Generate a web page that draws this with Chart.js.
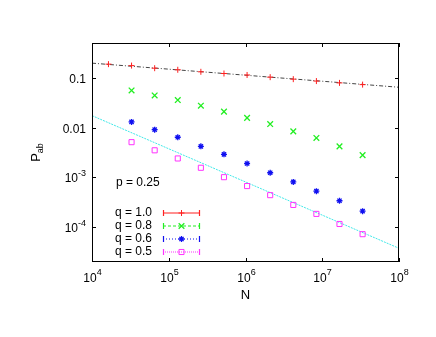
<!DOCTYPE html>
<html>
<head>
<meta charset="utf-8">
<script src="https://cdn.jsdelivr.net/npm/chart.js@4.4.0/dist/chart.umd.min.js"></script>
<style>
html, body { margin: 0; padding: 0; background: #fff; }
#wrap { width: 436px; height: 337px; }
</style>
</head>
<body>
<div id="wrap"><canvas id="probChart" width="436" height="337"></canvas></div>
<script>
// system sizes N = 2^14 ... 2^25
var sizes = [16384, 32768, 65536, 131072, 262144, 524288, 1048576, 2097152, 4194304, 8388608, 16777216, 33554432];

// P_ab (q = 1.0 starts at 2^14, the others at 2^15)
var q10 = [0.188, 0.176, 0.156, 0.145, 0.132, 0.122, 0.114, 0.103, 0.094, 0.086, 0.079, 0.073];
var q08 = [0.0557, 0.0443, 0.0358, 0.0275, 0.0209, 0.0157, 0.0118, 0.0084, 0.0062, 0.0042, 0.0028];
var q06 = [0.0130, 0.0091, 0.0064, 0.0042, 0.0029, 0.0019, 0.00124, 0.00081, 0.00053, 0.00034, 0.00021];
var q05 = [0.0051, 0.0035, 0.0024, 0.00156, 0.00101, 0.00067, 0.00044, 0.00028, 0.000185, 0.000116, 0.0000724];

// fitted power laws, end points at N = 1e4 and N = 1e8
var fitN = [1e4, 1e8];
var fitQ10 = [0.197, 0.0646];
var fitQ05 = [0.0174, 0.0000377];

var seriesLabels = ['q = 1.0', 'q = 0.8', 'q = 0.6', 'q = 0.5'];
var seriesColors = ['#ff2020', '#22ee22', '#1010f0', '#ff33ff'];
var xTicks = [1e4, 1e5, 1e6, 1e7, 1e8];
var xTickBase = ['10', '10', '10', '10', '10'];
var xTickExp = ['4', '5', '6', '7', '8'];
var yTicks = [0.1, 0.01, 1e-3, 1e-4];
var yTickBase = ['0.1', '0.01', '10', '10'];
var yTickExp = ['', '', '-3', '-4'];
var noteText = 'p = 0.25';

function pairs(xs, ys) {
    var out = [];
    for (var i = 0; i < ys.length; i++) {
        out.push({ x: xs[i], y: ys[i] });
    }
    return out;
}

var FONT = '"Liberation Sans", Arial, sans-serif';

function drawMarker(ctx, ds, color, x, y) {
    if (Chart.helpers && Chart.helpers.drawPoint) {
        ctx.save();
        ctx.strokeStyle = color;
        ctx.fillStyle = 'rgba(0,0,0,0)';
        ctx.lineWidth = ds.pointBorderWidth;
        ctx.setLineDash([]);
        Chart.helpers.drawPoint(ctx, { pointStyle: ds.pointStyle, rotation: 0, radius: ds.pointRadius, borderWidth: ds.pointBorderWidth }, x, y);
        ctx.restore();
    }
}

var gnuplotLook = {
    id: 'gnuplotLook',
    afterDatasetsDraw: function(chart) {
        var ctx = chart.ctx;
        var a = chart.chartArea;
        var xs = chart.scales.x, ys = chart.scales.y;
        ctx.save();

        // frame
        ctx.strokeStyle = '#000';
        ctx.lineWidth = 1;
        ctx.strokeRect(a.left + 0.5, a.top + 0.5, a.right - a.left - 1, a.bottom - a.top - 1);

        // inward ticks + labels on x
        ctx.fillStyle = '#000';
        ctx.textBaseline = 'alphabetic';
        xTicks.forEach(function(v, i) {
            var px = Math.round(xs.getPixelForValue(v)) + 0.5;
            ctx.beginPath();
            ctx.moveTo(px, a.bottom); ctx.lineTo(px, a.bottom - 4);
            ctx.moveTo(px, a.top); ctx.lineTo(px, a.top + 4);
            ctx.stroke();
            ctx.font = '12px ' + FONT;
            var wb = ctx.measureText(xTickBase[i]).width;
            ctx.font = '9px ' + FONT;
            var we = ctx.measureText(xTickExp[i]).width;
            var x0 = px - (wb + we) / 2;
            ctx.font = '12px ' + FONT;
            ctx.textAlign = 'left';
            ctx.fillText(xTickBase[i], x0, a.bottom + 20);
            ctx.font = '9px ' + FONT;
            ctx.fillText(xTickExp[i], x0 + wb, a.bottom + 13);
        });

        // inward ticks + labels on y
        yTicks.forEach(function(v, i) {
            var py = Math.round(ys.getPixelForValue(v)) + 0.5;
            ctx.beginPath();
            ctx.moveTo(a.left, py); ctx.lineTo(a.left + 4, py);
            ctx.moveTo(a.right, py); ctx.lineTo(a.right - 4, py);
            ctx.stroke();
            ctx.font = '9px ' + FONT;
            var we = yTickExp[i] ? ctx.measureText(yTickExp[i]).width : 0;
            ctx.font = '12px ' + FONT;
            var wb = ctx.measureText(yTickBase[i]).width;
            var xr = a.left - 6;
            ctx.textAlign = 'left';
            ctx.fillText(yTickBase[i], xr - we - wb, py + 4.5);
            if (yTickExp[i]) {
                ctx.font = '9px ' + FONT;
                ctx.fillText(yTickExp[i], xr - we, py - 2);
            }
        });

        // axis titles
        ctx.font = '13px ' + FONT;
        ctx.textAlign = 'center';
        ctx.fillText('N', (a.left + a.right) / 2, 299);

        ctx.save();
        ctx.translate(40, (a.top + a.bottom) / 2);
        ctx.rotate(-Math.PI / 2);
        ctx.font = '13px ' + FONT;
        var wp = ctx.measureText('P').width;
        ctx.font = '9px ' + FONT;
        var ws = ctx.measureText('ab').width;
        var sx = -(wp + ws) / 2;
        ctx.textAlign = 'left';
        ctx.font = '13px ' + FONT;
        ctx.fillText('P', sx, 0);
        ctx.font = '9px ' + FONT;
        ctx.fillText('ab', sx + wp, 3);
        ctx.restore();

        // note
        ctx.font = '12px ' + FONT;
        ctx.textAlign = 'left';
        ctx.textBaseline = 'middle';
        ctx.fillText(noteText, 116, 183);

        // legend
        var rows = [213, 226, 239, 252];
        var dashes = [[], [3, 2], [1, 2], [1, 1]];
        for (var k = 0; k < 4; k++) {
            var ds = chart.data.datasets[k];
            var yy = rows[k];
            ctx.fillStyle = '#000';
            ctx.font = '12px ' + FONT;
            ctx.textAlign = 'left';
            ctx.textBaseline = 'middle';
            ctx.fillText(seriesLabels[k], 115, rows[k]);
            ctx.strokeStyle = seriesColors[k];
            ctx.lineWidth = 1.2;
            ctx.setLineDash(dashes[k]);
            ctx.beginPath();
            ctx.moveTo(163, yy); ctx.lineTo(200, yy);
            ctx.stroke();
            ctx.setLineDash([]);
            ctx.beginPath();
            ctx.moveTo(163.5, yy - 3); ctx.lineTo(163.5, yy + 3);
            ctx.moveTo(199.5, yy - 3); ctx.lineTo(199.5, yy + 3);
            ctx.stroke();
            drawMarker(ctx, ds, seriesColors[k], 181.5, yy);
        }
        ctx.restore();
    }
};

var ctx = document.getElementById('probChart').getContext('2d');
var probChart = new Chart(ctx, {
    type: 'scatter',
    data: {
        datasets: [
            {
                label: seriesLabels[0],
                data: pairs(sizes, q10),
                borderColor: seriesColors[0],
                backgroundColor: 'rgba(0,0,0,0)',
                pointStyle: 'cross',
                pointRadius: 3,
                pointBorderWidth: 1
            },
            {
                label: seriesLabels[1],
                data: pairs(sizes.slice(1), q08),
                borderColor: seriesColors[1],
                backgroundColor: 'rgba(0,0,0,0)',
                pointStyle: 'crossRot',
                pointRadius: 4,
                pointBorderWidth: 1.3
            },
            {
                label: seriesLabels[2],
                data: pairs(sizes.slice(1), q06),
                borderColor: seriesColors[2],
                backgroundColor: 'rgba(0,0,0,0)',
                pointStyle: 'star',
                pointRadius: 3,
                pointBorderWidth: 1.3
            },
            {
                label: seriesLabels[3],
                data: pairs(sizes.slice(1), q05),
                borderColor: seriesColors[3],
                backgroundColor: 'rgba(0,0,0,0)',
                pointStyle: 'rect',
                pointRadius: 3.6,
                pointBorderWidth: 1
            },
            {
                label: 'fit q = 1.0',
                data: pairs(fitN, fitQ10),
                showLine: true,
                pointRadius: 0,
                borderColor: '#444444',
                borderWidth: 1,
                borderDash: [4, 2, 1, 2]
            },
            {
                label: 'fit q = 0.5',
                data: pairs(fitN, fitQ05),
                showLine: true,
                pointRadius: 0,
                borderColor: '#40e8e8',
                borderWidth: 1,
                borderDash: [2, 1]
            }
        ]
    },
    options: {
        responsive: false,
        animation: false,
        devicePixelRatio: 1,
        layout: { padding: { left: 92, right: 37, top: 43, bottom: 75 } },
        scales: {
            x: { type: 'logarithmic', display: false, min: 1e4, max: 1e8 },
            y: { type: 'logarithmic', display: false, min: 2e-5, max: 0.5 }
        },
        plugins: {
            legend: { display: false },
            tooltip: { enabled: false }
        }
    },
    plugins: [gnuplotLook]
});
</script>
</body>
</html>
